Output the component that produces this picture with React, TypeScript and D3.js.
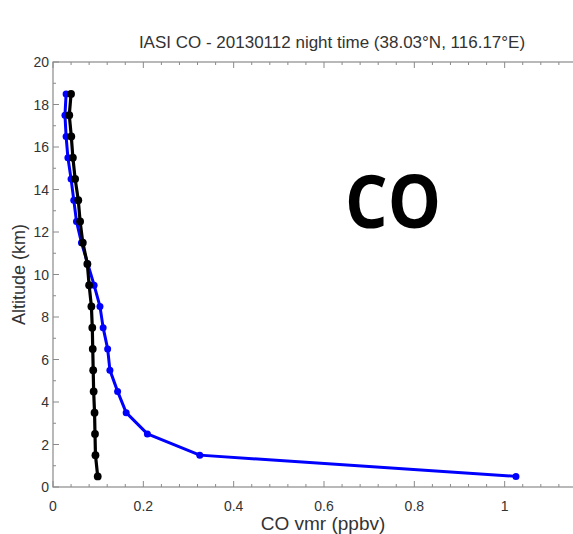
import React from "react";
import * as d3 from "d3";

// Altitude levels (km) of the retrieved profile
const altitudes = [0.5, 1.5, 2.5, 3.5, 4.5, 5.5, 6.5, 7.5, 8.5, 9.5, 10.5, 11.5, 12.5, 13.5, 14.5, 15.5, 16.5, 17.5, 18.5];
// Retrieved CO profile (blue)
const retrieved = [1.025, 0.325, 0.209, 0.162, 0.143, 0.126, 0.121, 0.111, 0.104, 0.091, 0.077, 0.063, 0.052, 0.046, 0.040, 0.033, 0.029, 0.0265, 0.029];
// A priori CO profile (black)
const apriori = [0.099, 0.094, 0.093, 0.092, 0.090, 0.089, 0.088, 0.087, 0.085, 0.080, 0.076, 0.066, 0.060, 0.056, 0.049, 0.044, 0.0405, 0.036, 0.040];

const xTicks = [0, 0.2, 0.4, 0.6, 0.8, 1];
const yTicks = [0, 2, 4, 6, 8, 10, 12, 14, 16, 18, 20];

const W = 573;
const H = 534;
const left = 53;
const right = 595;
const top = 62;
const bottom = 487;

export default function App() {
  const x = d3.scaleLinear().domain([0, 1.2]).range([left, right]);
  const y = d3.scaleLinear().domain([0, 20]).range([bottom, top]);

  const line = d3
    .line<[number, number]>()
    .x((d) => x(d[0]))
    .y((d) => y(d[1]));

  const blue = altitudes.map((a, i) => [retrieved[i], a] as [number, number]);
  const black = altitudes.map((a, i) => [apriori[i], a] as [number, number]);

  const xMinor = d3.range(0, 1.2001, 0.04);
  const yMinor = d3.range(0, 20.001, 1);
  const axisColor = "#8a8a8a";
  const font = "Liberation Sans, Arial, sans-serif";

  return (
    <svg width={W} height={H} style={{ position: "absolute", left: 0, top: 0, background: "#fff" }}>
      <rect x={0} y={0} width={W} height={H} fill="#fff" />
      <text x={332} y={48} textAnchor="middle" fontFamily={font} fontSize={17} fill="#333">
        IASI CO - 20130112 night time (38.03°N, 116.17°E)
      </text>

      {/* frame */}
      <rect x={left} y={top} width={right - left} height={bottom - top} fill="none" stroke={axisColor} strokeWidth={1.2} />

      {/* x ticks (bottom and top, inward) */}
      {xMinor.map((v, i) => {
        const major = i % 5 === 0;
        const len = major ? 6 : 3;
        return (
          <g key={"xm" + i} stroke={axisColor} strokeWidth={1}>
            <line x1={x(v)} x2={x(v)} y1={bottom} y2={bottom - len} />
            <line x1={x(v)} x2={x(v)} y1={top} y2={top + len} />
          </g>
        );
      })}
      {yMinor.map((v, i) => {
        const major = i % 2 === 0;
        const len = major ? 6 : 3;
        return (
          <g key={"ym" + i} stroke={axisColor} strokeWidth={1}>
            <line x1={left} x2={left + len} y1={y(v)} y2={y(v)} />
            <line x1={right} x2={right - len} y1={y(v)} y2={y(v)} />
          </g>
        );
      })}

      {xTicks.map((v) => (
        <text key={"xt" + v} x={x(v)} y={511} textAnchor="middle" fontFamily={font} fontSize={14} fill="#333">
          {d3.format("~g")(v)}
        </text>
      ))}
      {yTicks.map((v) => (
        <text key={"yt" + v} x={left - 4} y={y(v) + 5} textAnchor="end" fontFamily={font} fontSize={14} fill="#333">
          {v}
        </text>
      ))}

      <text x={323} y={530} textAnchor="middle" fontFamily={font} fontSize={19} fill="#333">
        CO vmr (ppbv)
      </text>
      <text
        transform={`translate(25, ${(top + bottom) / 2}) rotate(-90)`}
        textAnchor="middle"
        fontFamily={font}
        fontSize={18}
        fill="#333"
      >
        Altitude (km)
      </text>

      {/* retrieved profile */}
      <path d={line(blue) || ""} fill="none" stroke="#0000ff" strokeWidth={3} strokeLinejoin="round" />
      {blue.map((d, i) => (
        <circle key={"b" + i} cx={x(d[0])} cy={y(d[1])} r={3.5} fill="#0000ff" />
      ))}

      {/* a priori profile */}
      <path d={line(black) || ""} fill="none" stroke="#000" strokeWidth={3.2} strokeLinejoin="round" />
      {black.map((d, i) => (
        <circle key={"k" + i} cx={x(d[0])} cy={y(d[1])} r={3.9} fill="#000" />
      ))}

      <text x={393} y={228} textAnchor="middle" fontFamily="Open Sans, sans-serif" fontWeight="bold" fontSize={74} fill="#000" textLength={96} lengthAdjust="spacingAndGlyphs">
        CO
      </text>
    </svg>
  );
}
